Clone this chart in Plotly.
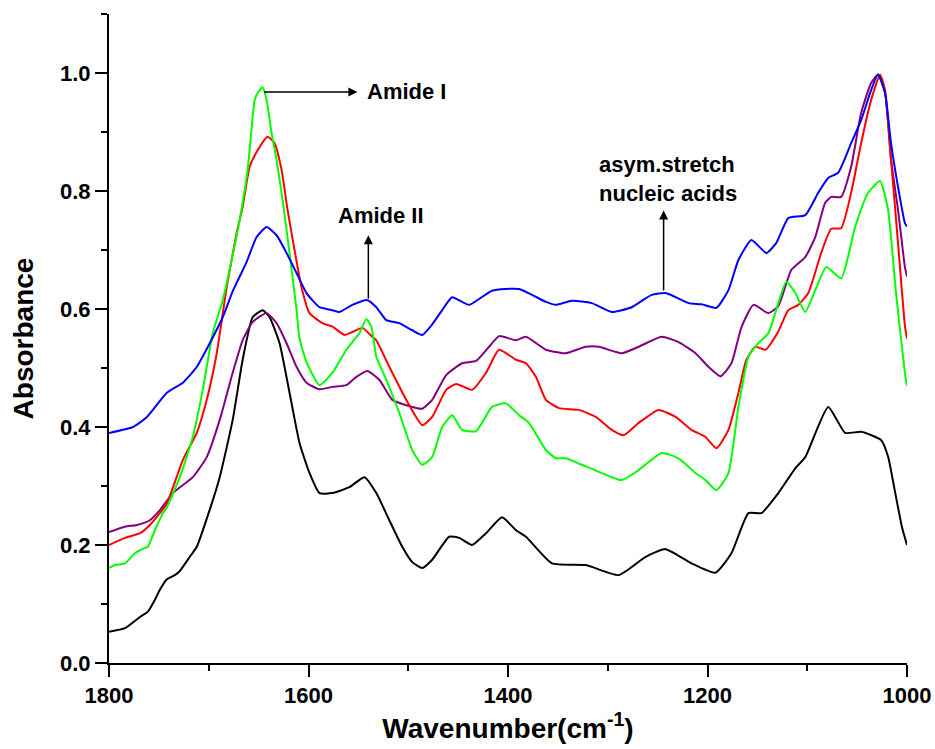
import plotly.graph_objects as go

# ---- data (wavenumber cm-1, absorbance) ----
black_x = [1800,1784,1769,1761,1754,1749,1742,1734,1729,1719,1712,1699,1689,1676,1666,1656,1646,1639,1629,1619,1609,1599,1589,1576,1559,1544,1532,1519,1506,1496,1486,1476,1459,1449,1436,1422,1406,1392,1382,1356,1322,1289,1262,1242,1216,1192,1176,1159,1146,1129,1112,1102,1079,1062,1046,1026,1019,1012,1005,1000]
black_y = [0.053,0.059,0.078,0.087,0.107,0.124,0.142,0.149,0.156,0.18,0.197,0.26,0.315,0.412,0.514,0.586,0.598,0.586,0.542,0.458,0.373,0.322,0.288,0.288,0.298,0.315,0.288,0.242,0.197,0.171,0.161,0.175,0.214,0.212,0.2,0.22,0.247,0.225,0.214,0.169,0.166,0.149,0.18,0.193,0.169,0.153,0.186,0.254,0.254,0.288,0.33,0.349,0.434,0.39,0.392,0.378,0.35,0.29,0.23,0.2]

green_x = [1800,1794,1784,1774,1764,1761,1754,1746,1742,1729,1716,1706,1696,1686,1677,1669,1661,1654,1651,1646,1642,1637,1632,1626,1619,1612,1609,1602,1589,1576,1562,1556,1549,1542,1537,1532,1522,1509,1496,1486,1476,1466,1456,1446,1432,1416,1402,1389,1379,1362,1352,1342,1326,1309,1286,1269,1246,1229,1212,1202,1191,1179,1169,1159,1149,1139,1129,1121,1112,1102,1092,1081,1066,1052,1039,1027,1019,1011,1002,1000]
green_y = [0.161,0.166,0.169,0.186,0.195,0.197,0.225,0.254,0.264,0.315,0.383,0.463,0.559,0.615,0.683,0.751,0.836,0.954,0.966,0.976,0.954,0.898,0.853,0.785,0.695,0.598,0.55,0.51,0.471,0.492,0.531,0.544,0.559,0.583,0.57,0.519,0.48,0.424,0.361,0.336,0.349,0.4,0.42,0.395,0.393,0.434,0.44,0.42,0.407,0.361,0.347,0.347,0.336,0.324,0.31,0.327,0.356,0.347,0.322,0.31,0.293,0.322,0.434,0.519,0.542,0.559,0.61,0.646,0.627,0.595,0.632,0.671,0.652,0.739,0.797,0.817,0.768,0.627,0.49,0.47]

red_x = [1800,1784,1769,1759,1749,1742,1726,1712,1702,1692,1682,1672,1666,1659,1651,1641,1634,1627,1621,1614,1607,1599,1586,1576,1564,1556,1546,1536,1532,1519,1502,1486,1476,1462,1452,1436,1422,1409,1392,1382,1372,1362,1349,1329,1312,1296,1284,1269,1249,1232,1216,1202,1191,1179,1169,1161,1152,1142,1129,1119,1109,1099,1086,1076,1066,1056,1046,1036,1027,1022,1016,1009,1002,1000]
red_y = [0.2,0.212,0.22,0.234,0.254,0.27,0.344,0.39,0.446,0.525,0.637,0.729,0.773,0.841,0.869,0.892,0.881,0.836,0.768,0.7,0.637,0.593,0.576,0.57,0.556,0.561,0.568,0.553,0.547,0.502,0.446,0.403,0.417,0.463,0.473,0.463,0.492,0.531,0.514,0.508,0.485,0.446,0.432,0.429,0.417,0.395,0.386,0.407,0.429,0.417,0.395,0.383,0.364,0.395,0.458,0.514,0.536,0.531,0.562,0.598,0.607,0.627,0.695,0.736,0.737,0.797,0.881,0.954,0.997,0.971,0.853,0.712,0.57,0.55]

purple_x = [1800,1784,1772,1759,1749,1736,1716,1702,1689,1676,1666,1656,1642,1632,1622,1612,1602,1589,1576,1562,1552,1541,1529,1516,1502,1486,1476,1462,1446,1432,1419,1409,1392,1382,1362,1342,1322,1309,1286,1269,1246,1229,1212,1199,1187,1176,1166,1154,1139,1129,1116,1102,1092,1082,1076,1066,1056,1046,1036,1029,1022,1016,1009,1002,1000]
purple_y = [0.222,0.231,0.234,0.242,0.259,0.288,0.315,0.349,0.412,0.492,0.547,0.578,0.593,0.576,0.542,0.502,0.475,0.464,0.468,0.471,0.485,0.495,0.48,0.446,0.437,0.431,0.446,0.488,0.508,0.512,0.536,0.554,0.547,0.553,0.531,0.525,0.536,0.536,0.525,0.536,0.553,0.544,0.525,0.502,0.486,0.508,0.569,0.607,0.593,0.605,0.666,0.688,0.722,0.78,0.79,0.79,0.841,0.932,0.983,0.997,0.966,0.853,0.768,0.67,0.655]

blue_x = [1800,1776,1762,1742,1726,1712,1699,1686,1676,1662,1652,1642,1632,1622,1612,1602,1589,1576,1569,1556,1541,1532,1522,1509,1496,1486,1476,1466,1456,1439,1416,1389,1362,1352,1336,1316,1296,1276,1256,1242,1219,1206,1191,1179,1169,1156,1141,1131,1119,1102,1089,1079,1069,1056,1046,1036,1029,1022,1016,1009,1002,1000]
blue_y = [0.39,0.4,0.417,0.458,0.475,0.502,0.542,0.586,0.63,0.68,0.722,0.739,0.725,0.695,0.661,0.627,0.603,0.598,0.595,0.607,0.615,0.603,0.581,0.576,0.564,0.556,0.574,0.598,0.62,0.607,0.631,0.634,0.612,0.607,0.614,0.61,0.595,0.603,0.624,0.627,0.61,0.608,0.602,0.632,0.683,0.717,0.695,0.712,0.754,0.759,0.797,0.822,0.831,0.881,0.92,0.971,0.998,0.966,0.881,0.807,0.745,0.74]

series = [
    ("black", black_x, black_y, "#000000"),
    ("purple", purple_x, purple_y, "#800080"),
    ("red", red_x, red_y, "#FF0000"),
    ("green", green_x, green_y, "#00FF00"),
    ("blue", blue_x, blue_y, "#0000FF"),
]

FONT = "Liberation Sans, Arial, sans-serif"

fig = go.Figure()
for name, xs, ys, col in series:
    fig.add_trace(go.Scatter(x=xs, y=ys, mode="lines", name=name,
                             line=dict(color=col, width=2, shape="spline", smoothing=0.5),
                             showlegend=False, hoverinfo="skip"))

axis_common = dict(showline=True, linecolor="black", linewidth=2, mirror=False,
                   showgrid=False, zeroline=False, ticks="outside", ticklen=12,
                   tickwidth=2, tickcolor="black", automargin=False,
                   tickfont=dict(family=FONT, size=22, color="black", weight="bold"))

fig.update_xaxes(range=[1800, 1000], tickmode="linear", tick0=1000, dtick=200,
                 minor=dict(ticks="outside", ticklen=6, tickwidth=2, tickcolor="black", dtick=100, tick0=1000),
                 title=dict(text="Wavenumber(cm<sup>-1</sup>)", standoff=8,
                            font=dict(family=FONT, size=28, color="black", weight="bold")),
                 **axis_common)
fig.update_yaxes(range=[0, 1.1], tickmode="linear", tick0=0, dtick=0.2, tickformat=".1f",
                 minor=dict(ticks="outside", ticklen=6, tickwidth=2, tickcolor="black", dtick=0.1, tick0=0),
                 title=dict(text="Absorbance", standoff=18,
                            font=dict(family=FONT, size=28, color="black", weight="bold")),
                 **axis_common)

ann_font = dict(family=FONT, size=22, color="black", weight="bold")
arrow_common = dict(xref="x", yref="y", axref="x", ayref="y", text="", showarrow=True,
                    arrowhead=2, arrowsize=1.2, arrowwidth=1.5, arrowcolor="black")
# arrows (head at x,y ; tail at ax,ay)
fig.add_annotation(x=1551, y=0.968, ax=1646, ay=0.968, **arrow_common)
fig.add_annotation(x=1540, y=0.725, ax=1540, ay=0.615, **arrow_common)
fig.add_annotation(x=1244, y=0.767, ax=1244, ay=0.629, **arrow_common)
# labels
fig.add_annotation(x=1543, y=0.968, text="Amide I", showarrow=False, xanchor="left",
                   yanchor="middle", font=ann_font)
fig.add_annotation(x=1527, y=0.759, text="Amide II", showarrow=False, xanchor="center",
                   yanchor="middle", font=ann_font)
fig.add_annotation(x=1311, y=0.82, text="asym.stretch<br>nucleic acids", showarrow=False,
                   xanchor="left", yanchor="middle", align="left", font=ann_font)

fig.update_layout(width=935, height=749, margin=dict(l=109, r=28, t=14, b=86),
                  paper_bgcolor="white", plot_bgcolor="white",
                  font=dict(family=FONT, color="black"))

fig.write_html("out.html")
